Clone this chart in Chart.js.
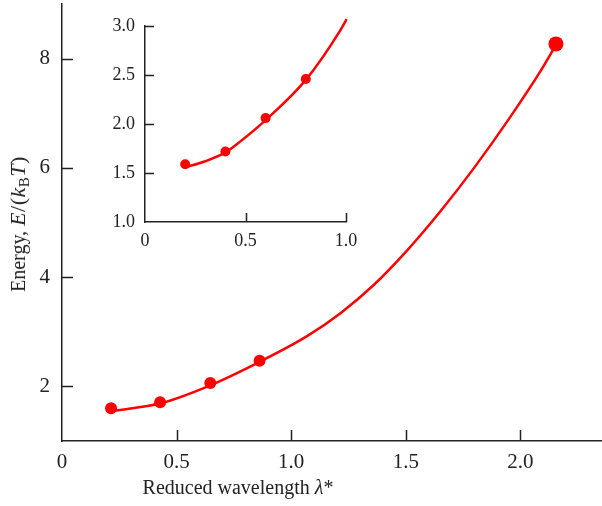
<!DOCTYPE html>
<html>
<head>
<meta charset="utf-8">
<script src="https://cdn.jsdelivr.net/npm/chart.js@4/dist/chart.umd.min.js"></script>
<style>
  html, body { margin: 0; padding: 0; background: #fff; }
  #wrap { position: relative; width: 602px; height: 506px; font-family: "Liberation Serif", "DejaVu Serif", serif; color: #222; }
  #main { position: absolute; left: 0; top: 0; }
  #inset { position: absolute; left: 100px; top: 0; }
  .ytitle { position: absolute; left: 18px; top: 224px; transform: translate(-50%, -50%) rotate(-90deg); white-space: nowrap; font-size: 20px; }
  .ytitle .m { font-size: 22px; letter-spacing: 0.5px; }
  .xtitle { position: absolute; left: 238px; top: 487px; transform: translate(-50%, -50%); white-space: nowrap; font-size: 20px; }
  i { font-style: italic; }
  sub { font-size: 15px; vertical-align: -4px; line-height: 0; }
</style>
</head>
<body>
<div id="wrap">
  <canvas id="main" width="602" height="506"></canvas>
  <canvas id="inset" width="260" height="256"></canvas>
  <div class="ytitle">Energy, <span class="m"><i>E</i>/(<i>k</i><sub>B</sub><i>T</i>)</span></div>
  <div class="xtitle">Reduced wavelength <i>λ</i>*</div>
</div>
<script>
// ---- main panel data ----
const mainPointX = [0.214, 0.428, 0.647, 0.862, 2.155];
const mainPointY = [1.60, 1.71, 2.06, 2.47, 8.27];
const mainCurveX = [0.224, 0.43, 0.647, 0.862, 1.069, 1.215, 1.361, 1.506, 1.652, 1.798, 1.944, 2.089, 2.155];
const mainCurveY = [1.55, 1.69, 2.02, 2.45, 2.92, 3.34, 3.86, 4.49, 5.21, 6.00, 6.86, 7.78, 8.25];
const mainXTicks = [0, 0.5, 1.0, 1.5, 2.0];
const mainYTicks = [2, 4, 6, 8];

// ---- inset data ----
const insetPointX = [0.2, 0.4, 0.6, 0.8];
const insetPointY = [1.59, 1.72, 2.06, 2.46];
const insetCurveX = [0.204, 0.3, 0.4, 0.473, 0.6, 0.8, 0.97, 1.003];
const insetCurveY = [1.56, 1.62, 1.71, 1.82, 2.04, 2.45, 2.95, 3.07];
const insetXTicks = [0, 0.5, 1.0];
const insetYTicks = [1.0, 1.5, 2.0, 2.5, 3.0];

const RED = '#ff0000';
const INK = '#222222';
const FONT = '"Liberation Serif", "DejaVu Serif", serif';

const toXY = (xs, ys) => xs.map((x, i) => ({ x: x, y: ys[i] }));
const fmt1 = v => (v === 0 ? '0' : Number(v).toFixed(1));
const fmt0 = v => String(v);

const innerTicks = {
  id: 'innerTicks',
  afterDraw(chart, args, opts) {
    const { ctx, chartArea: a, scales } = chart;
    const len = opts.len || 10;
    ctx.save();
    ctx.strokeStyle = INK;
    ctx.lineWidth = opts.width || 1.5;
    ctx.beginPath();
    scales.x.ticks.forEach(t => {
      if (t.value === scales.x.min) return;
      const px = Math.round(scales.x.getPixelForValue(t.value)) + 0.5;
      ctx.moveTo(px, a.bottom);
      ctx.lineTo(px, a.bottom - len);
    });
    scales.y.ticks.forEach(t => {
      if (t.value === scales.y.min) return;
      const py = Math.round(scales.y.getPixelForValue(t.value)) + 0.5;
      ctx.moveTo(a.left, py);
      ctx.lineTo(a.left + len, py);
    });
    ctx.stroke();
    ctx.restore();
  }
};

function axis(min, max, tickVals, fontSize, pad, fitProp, fitVal, fmt) {
  return {
    type: 'linear',
    min: min, max: max,
    afterBuildTicks: s => { s.ticks = tickVals.map(v => ({ value: v })); },
    afterFit: s => {
      s[fitProp] = fitVal;
      s.paddingTop = 0; s.paddingBottom = 0; s.paddingLeft = 0; s.paddingRight = 0;
    },
    grid: { display: true, drawOnChartArea: false, drawTicks: false },
    border: { display: true, color: INK, width: 1.5 },
    ticks: { color: INK, font: { family: FONT, size: fontSize }, padding: pad, callback: v => fmt(v), maxRotation: 0, autoSkip: false }
  };
}

new Chart(document.getElementById('main'), {
  type: 'scatter',
  data: {
    datasets: [
      { type: 'line', data: toXY(mainCurveX, mainCurveY), borderColor: RED, borderWidth: 2.5, pointRadius: 0, cubicInterpolationMode: 'monotone', fill: false, order: 2 },
      { data: toXY(mainPointX, mainPointY), backgroundColor: RED, borderColor: RED, pointRadius: [6, 6, 6, 6, 7.5], borderWidth: 0, order: 1 }
    ]
  },
  options: {
    responsive: false, animation: false, clip: false,
    layout: { autoPadding: false, padding: { top: 4, right: 0, left: 0, bottom: 0 } },
    plugins: { legend: { display: false }, tooltip: { enabled: false }, innerTicks: { len: 11 } },
    scales: {
      x: axis(0, 2.356, mainXTicks, 21, 9, 'height', 65, fmt1),
      y: axis(1, 9, mainYTicks, 21, 12, 'width', 62, fmt0)
    }
  },
  plugins: [innerTicks]
});

new Chart(document.getElementById('inset'), {
  type: 'scatter',
  data: {
    datasets: [
      { type: 'line', data: toXY(insetCurveX, insetCurveY), borderColor: RED, borderWidth: 2.5, pointRadius: 0, cubicInterpolationMode: 'monotone', fill: false, order: 2 },
      { data: toXY(insetPointX, insetPointY), backgroundColor: RED, borderColor: RED, pointRadius: 5, borderWidth: 0, order: 1 }
    ]
  },
  options: {
    responsive: false, animation: false, clip: false,
    layout: { autoPadding: false, padding: { top: 26, right: 14, left: 0, bottom: 0 } },
    plugins: { legend: { display: false }, tooltip: { enabled: false }, innerTicks: { len: 9 } },
    scales: {
      x: axis(0, 1, insetXTicks, 18, 8, 'height', 34, fmt1),
      y: axis(1, 3, insetYTicks, 18, 10, 'width', 45, fmt1)
    }
  },
  plugins: [innerTicks]
});
</script>
</body>
</html>
